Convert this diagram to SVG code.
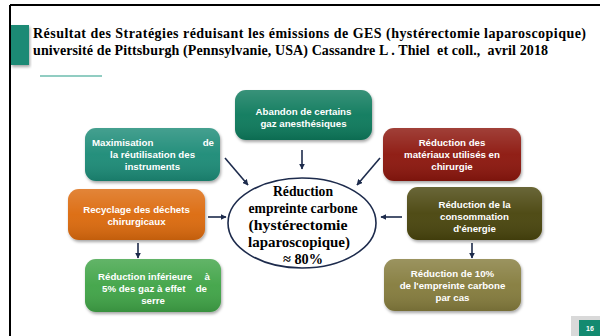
<svg xmlns="http://www.w3.org/2000/svg" width="600" height="336" viewBox="0 0 600 336">
<defs>
<filter id="sh" x="-10%" y="-10%" width="125%" height="135%">
<feDropShadow dx="1" dy="2" stdDeviation="1.5" flood-color="#000" flood-opacity="0.35"/>
</filter>
<linearGradient id="gloss" x1="0" y1="0" x2="0" y2="1">
<stop offset="0" stop-color="#fff" stop-opacity="0.18"/>
<stop offset="0.5" stop-color="#fff" stop-opacity="0.04"/>
<stop offset="1" stop-color="#000" stop-opacity="0.12"/>
</linearGradient>
<marker id="ah" viewBox="0 0 10 10" refX="9" refY="5" markerWidth="6" markerHeight="6" markerUnits="userSpaceOnUse" orient="auto">
<path d="M0,0 L10,5 L0,10 z" fill="#1d2b4c"/>
</marker>
</defs>
<style>
.box{stroke:none;filter:url(#sh)}
.gl{fill:url(#gloss)}
.bt{font-family:"Liberation Sans",Arial,sans-serif;font-weight:bold;font-size:9.7px;fill:#fff;text-anchor:middle}
.bl{text-anchor:start}
.br{text-anchor:end}
.ttl{font-family:"Liberation Serif","Times New Roman",serif;font-weight:bold;font-size:14px;fill:#000}
.ct{font-family:"Liberation Serif","Times New Roman",serif;font-weight:bold;font-size:15.5px;fill:#000;text-anchor:middle}
.ar{stroke:#1d2b4c;stroke-width:1.6;fill:none;marker-end:url(#ah)}
</style>
<rect width="600" height="336" fill="#fff"/>
<g id="frame">
<path d="M10,5 H600 M10,5 V336" stroke="#000" stroke-width="2" fill="none"/>
<rect x="11" y="25" width="18" height="40" fill="#1a8a74" filter="url(#sh)"/>
<line x1="40" y1="76" x2="102" y2="76" stroke="#6cbcae" stroke-width="1.5"/>
</g>
<g id="title">
<text class="ttl" x="33" y="38" textLength="553" lengthAdjust="spacing">Résultat des Stratégies réduisant les émissions de GES (hystérectomie laparoscopique)</text>
<text class="ttl" x="33" y="55" xml:space="preserve" textLength="515" lengthAdjust="spacing">université de Pittsburgh (Pennsylvanie, USA) Cassandre L . Thiel  et coll.,  avril 2018</text>
</g>
<g id="connectors">
<line class="ar" x1="302" y1="150" x2="302" y2="169"/>
<line class="ar" x1="225" y1="158" x2="248" y2="185"/>
<line class="ar" x1="380" y1="158" x2="357" y2="185"/>
<line class="ar" x1="208" y1="217" x2="226" y2="217"/>
<line class="ar" x1="402" y1="217" x2="381" y2="217"/>
<line class="ar" x1="138" y1="243" x2="138" y2="258"/>
<line class="ar" x1="472" y1="243" x2="472" y2="258"/>
</g>
<g id="center">
<ellipse cx="302" cy="223" rx="74" ry="45" fill="#fff" stroke="#1d2b4c" stroke-width="1.6"/>
<text class="ct" x="303" y="196" textLength="60" lengthAdjust="spacingAndGlyphs">Réduction</text>
<text class="ct" x="303" y="213" textLength="109" lengthAdjust="spacingAndGlyphs">empreinte carbone</text>
<text class="ct" x="298" y="230" textLength="99" lengthAdjust="spacingAndGlyphs">(hystérectomie</text>
<text class="ct" x="299" y="247" textLength="102" lengthAdjust="spacingAndGlyphs">laparoscopique)</text>
<text class="ct" x="303" y="264" textLength="40" lengthAdjust="spacingAndGlyphs">≈ 80%</text>
</g>
<g id="n_abandon">
<rect class="box" x="235" y="90" width="137" height="50" rx="11" fill="#0f7a5c"/>
<rect class="gl" x="235" y="90" width="137" height="50" rx="11"/>
<text class="bt" x="303.5" y="114.5">Abandon de certains</text>
<text class="bt" x="303.5" y="126.5">gaz anesthésiques</text>
</g>
<g id="n_maximisation">
<rect class="box" x="85" y="128" width="135" height="53" rx="11" fill="#1e8b77"/>
<rect class="gl" x="85" y="128" width="135" height="53" rx="11"/>
<text class="bt bl" x="92" y="146">Maximisation</text>
<text class="bt br" x="214" y="146">de</text>
<text class="bt" x="152.5" y="158">la réutilisation des</text>
<text class="bt" x="152.5" y="170">instruments</text>
</g>
<g id="n_materiaux">
<rect class="box" x="383" y="128" width="138" height="53" rx="11" fill="#8c180b"/>
<rect class="gl" x="383" y="128" width="138" height="53" rx="11"/>
<text class="bt" x="452" y="146">Réduction des</text>
<text class="bt" x="452" y="158">matériaux utilisés en</text>
<text class="bt" x="452" y="170">chirurgie</text>
</g>
<g id="n_recyclage">
<rect class="box" x="68" y="189" width="137" height="51" rx="11" fill="#dc6b10"/>
<rect class="gl" x="68" y="189" width="137" height="51" rx="11"/>
<text class="bt" x="136.5" y="213">Recyclage des déchets</text>
<text class="bt" x="136.5" y="225">chirurgicaux</text>
</g>
<g id="n_gaz">
<rect class="box" x="85" y="259" width="136" height="53" rx="11" fill="#40a446"/>
<rect class="gl" x="85" y="259" width="136" height="53" rx="11"/>
<text class="bt bl" x="98" y="280">Réduction inférieure</text>
<text class="bt br" x="210" y="280">à</text>
<text class="bt bl" x="102" y="292">5% des gaz à effet</text>
<text class="bt br" x="207" y="292">de</text>
<text class="bt" x="153" y="304">serre</text>
</g>
<g id="n_energie">
<rect class="box" x="407" y="187" width="135" height="53" rx="11" fill="#4a4507"/>
<rect class="gl" x="407" y="187" width="135" height="53" rx="11"/>
<text class="bt" x="474.5" y="208">Réduction de la</text>
<text class="bt" x="474.5" y="220">consommation</text>
<text class="bt" x="474.5" y="232">d'énergie</text>
</g>
<g id="n_empreinte">
<rect class="box" x="384" y="259" width="137" height="52" rx="11" fill="#857b3c"/>
<rect class="gl" x="384" y="259" width="137" height="52" rx="11"/>
<text class="bt" x="452.5" y="277">Réduction de 10%</text>
<text class="bt" x="452.5" y="289">de l'empreinte carbone</text>
<text class="bt" x="452.5" y="301">par cas</text>
</g>
<g id="pagenum">
<rect x="571" y="316" width="29" height="20" fill="#d9d9d9"/>
<rect x="579" y="320" width="21" height="16" fill="#138a70"/>
<text x="590" y="331" font-family="Liberation Sans,Arial,sans-serif" font-weight="bold" font-size="7px" fill="#fff" text-anchor="middle">16</text>
</g>
</svg>
